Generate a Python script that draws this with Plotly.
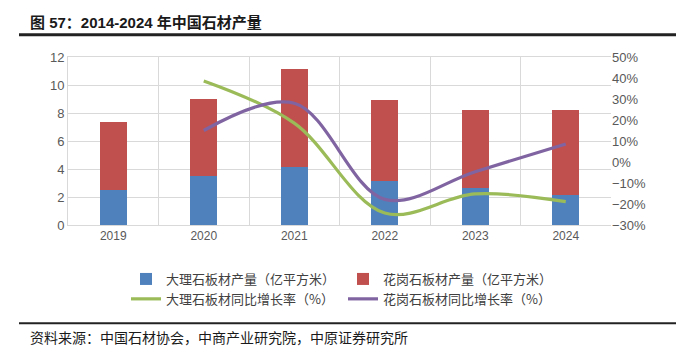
import plotly.graph_objects as go

years = ["2019", "2020", "2021", "2022", "2023", "2024"]
marble_output = [2.5, 3.52, 4.12, 3.12, 2.67, 2.14]
granite_output = [4.85, 5.5, 7.02, 5.81, 5.57, 6.1]
marble_growth_years = ["2020", "2021", "2022", "2023", "2024"]
marble_growth = [38.6, 18.5, -24.3, -15.2, -18.9]
granite_growth_years = ["2020", "2021", "2022", "2023", "2024"]
granite_growth = [15.0, 28.0, -17.8, -4.6, 8.6]

names = ["大理石板材产量（亿平方米）", "花岗石板材产量（亿平方米）",
         "大理石板材同比增长率（%）", "花岗石板材同比增长率（%）"]

FONT = "Liberation Sans, Arial, Noto Sans CJK SC, sans-serif"
CJK = "Noto Sans CJK SC, sans-serif"

fig = go.Figure()
fig.add_trace(go.Bar(x=years, y=marble_output, name=names[0], marker_color="#4f81bd",
                     marker_line_width=0, width=0.3))
fig.add_trace(go.Bar(x=years, y=granite_output, name=names[1], marker_color="#c0504d",
                     marker_line_width=0, width=0.3))
fig.add_trace(go.Scatter(x=marble_growth_years, y=marble_growth, name=names[2], yaxis="y2",
                         mode="lines", line=dict(color="#9bbb59", width=3.2, shape="spline", smoothing=1.0)))
fig.add_trace(go.Scatter(x=granite_growth_years, y=granite_growth, name=names[3], yaxis="y2",
                         mode="lines", line=dict(color="#8064a2", width=3.2, shape="spline", smoothing=1.0)))

L, R, T, B = 68, 611, 57, 225
W, H = R - L, B - T
def px(x): return (x - L) / W
def py(y): return (B - y) / H

fig.update_layout(
    width=700, height=352,
    margin=dict(l=L, r=700 - R, t=T, b=352 - B),
    barmode="stack",
    plot_bgcolor="white", paper_bgcolor="white",
    font=dict(family=FONT, size=12, color="#595959"),
    showlegend=True,
    legend=dict(orientation="h", x=px(126), y=py(264), xanchor="left", yanchor="top",
                entrywidth=172, entrywidthmode="pixels", traceorder="normal",
                font=dict(family=CJK, size=13, color="#404040"),
                itemwidth=30, tracegroupgap=0),
    xaxis=dict(type="category", showgrid=True, gridcolor="#d9d9d9", gridwidth=1,
               tickson="boundaries", ticks="", showline=True, linecolor="#d9d9d9",
               mirror=True, tickfont=dict(size=12, color="#595959")),
    yaxis=dict(range=[0, 12], dtick=2, showgrid=True, gridcolor="#d9d9d9",
               showline=True, linecolor="#d9d9d9", zeroline=False, ticks="",
               tickfont=dict(size=13, color="#595959")),
    yaxis2=dict(range=[-30, 50], dtick=10, overlaying="y", side="right", showgrid=False,
                zeroline=False, ticksuffix="%", ticks="", tickfont=dict(size=13, color="#595959")),
    shapes=[
        dict(type="line", xref="paper", yref="paper", x0=px(19), x1=px(676), y0=py(34.7), y1=py(34.7),
             line=dict(color="#222222", width=3)),
        dict(type="line", xref="paper", yref="paper", x0=px(19), x1=px(676), y0=py(323.3), y1=py(323.3),
             line=dict(color="#222222", width=2)),
    ],
    annotations=[
        dict(text="<b>图 57：2014-2024 年中国石材产量</b>", xref="paper", yref="paper",
             x=px(28), y=py(22), xanchor="left", yanchor="middle", showarrow=False,
             font=dict(family=FONT, size=15, color="#1a1a1a")),
        dict(text="资料来源：中国石材协会，中商产业研究院，中原证券研究所", xref="paper", yref="paper",
             x=px(28), y=py(337), xanchor="left", yanchor="middle", showarrow=False,
             font=dict(family=CJK, size=14, color="#1a1a1a")),
    ],
)

fig.write_html("out.html")
